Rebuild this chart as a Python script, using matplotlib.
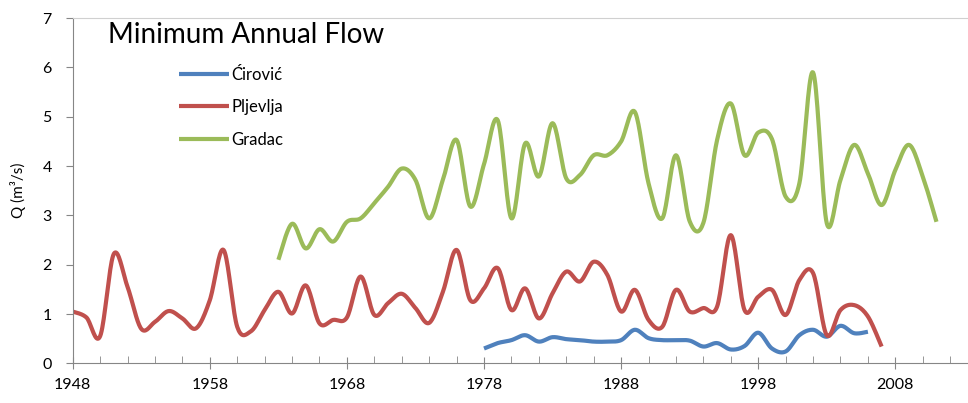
import numpy as np
import matplotlib
matplotlib.use("Agg")
import matplotlib.pyplot as plt
from matplotlib.ticker import FixedLocator

plt.rcParams['font.family'] = ['Lato', 'DejaVu Sans']

# minimum annual flow, m3/s
cirovic_years = list(range(1978, 2007))
cirovic = [0.30, 0.41, 0.47, 0.57, 0.44, 0.53, 0.49, 0.47, 0.44, 0.44,
           0.47, 0.68, 0.51, 0.47, 0.47, 0.46, 0.34, 0.41, 0.28, 0.35,
           0.62, 0.30, 0.24, 0.57, 0.68, 0.54, 0.76, 0.61, 0.64]

pljevlja_years = list(range(1948, 2008))
pljevlja = [1.05, 0.93, 0.55, 2.22, 1.55, 0.70, 0.84, 1.06, 0.91, 0.71,
            1.28, 2.30, 0.74, 0.65, 1.08, 1.45, 1.01, 1.58, 0.81, 0.88,
            0.93, 1.76, 0.98, 1.22, 1.41, 1.12, 0.82, 1.45, 2.30, 1.28,
            1.52, 1.93, 1.08, 1.52, 0.91, 1.42, 1.86, 1.66, 2.06, 1.79,
            1.05, 1.49, 0.88, 0.74, 1.49, 1.05, 1.12, 1.15, 2.60, 1.08,
            1.35, 1.49, 0.98, 1.69, 1.83, 0.57, 1.08, 1.18, 0.95, 0.34]

gradac_years = list(range(1963, 2012))
gradac = [2.10, 2.83, 2.33, 2.72, 2.47, 2.87, 2.94, 3.25, 3.58, 3.95,
          3.72, 2.94, 3.72, 4.53, 3.18, 4.04, 4.93, 2.94, 4.46, 3.79,
          4.87, 3.75, 3.82, 4.22, 4.22, 4.50, 5.10, 3.65, 2.94, 4.22,
          2.88, 2.85, 4.53, 5.27, 4.22, 4.68, 4.55, 3.38, 3.65, 5.90,
          2.84, 3.72, 4.43, 3.85, 3.21, 3.92, 4.43, 3.79, 2.87]

labels = ['Ćirović', 'Pljevlja', 'Gradac']
colors = ['#4F81BD', '#C0504D', '#9BBB59']
year_ticks = list(range(1948, 2014, 10))


def smooth(xs, ys, n=20):
    # excel-like smoothed line (bezier through the points)
    p = np.column_stack([xs, ys]).astype(float)
    p = np.vstack([p[0], p, p[-1]])
    out = []
    t = np.linspace(0, 1, n)[:, None]
    for i in range(1, len(p) - 2):
        p0, p1, p2, p3 = p[i], p[i] + (p[i + 1] - p[i - 1]) / 6, p[i + 1] - (p[i + 2] - p[i]) / 6, p[i + 1]
        seg = (1 - t) ** 3 * p0 + 3 * (1 - t) ** 2 * t * p1 + 3 * (1 - t) * t ** 2 * p2 + t ** 3 * p3
        out.append(seg if i == 1 else seg[1:])
    out = np.vstack(out)
    return out[:, 0], out[:, 1]


W, H = 968, 403
fig = plt.figure(figsize=(W / 100, H / 100), dpi=100)
ax = fig.add_axes([72.7 / W, 39.7 / H, (W - 72.7) / W, 345.1 / H])

series = [(cirovic_years, cirovic), (pljevlja_years, pljevlja), (gradac_years, gradac)]
for (xs, ys), lab, c in zip(series, labels, colors):
    sx, sy = smooth(xs, ys)
    ax.plot(sx, sy, color=c, lw=3.0, label=lab, solid_capstyle='butt')

ax.set_xlim(1948, 2013.3)
ax.set_ylim(0, 7)
ax.xaxis.set_major_locator(FixedLocator(year_ticks))
ax.xaxis.set_minor_locator(FixedLocator(list(range(1948, 2014, 2))))
ax.set_yticks(range(0, 8))

ax.spines['right'].set_visible(False)
ax.spines['top'].set_color('#D0D0D0')
ax.spines['left'].set_color('#868686')
ax.spines['bottom'].set_color('#868686')

ax.tick_params(axis='x', which='major', direction='inout', length=9, color='#868686',
               labelsize=11.5, pad=6)
ax.tick_params(axis='x', which='minor', direction='in', length=5, color='#868686')
ax.tick_params(axis='y', which='major', direction='out', length=5, color='#868686',
               labelsize=11.5, pad=10)
ax.set_ylabel('Q (m³/s)', fontsize=11, labelpad=12)

fig.text(108 / W, 1 - 43 / H, 'Minimum Annual Flow', fontsize=20, va='baseline', ha='left')

leg = ax.legend(loc='upper left', bbox_to_anchor=((172 - 72.7) / (W - 72.7), 1 - (60 - 18.2) / 345.1),
                frameon=False, fontsize=12, handlelength=3.0, handletextpad=0.15,
                labelspacing=1.0, borderaxespad=0)

fig.savefig('out.png', dpi=100, facecolor='white')
